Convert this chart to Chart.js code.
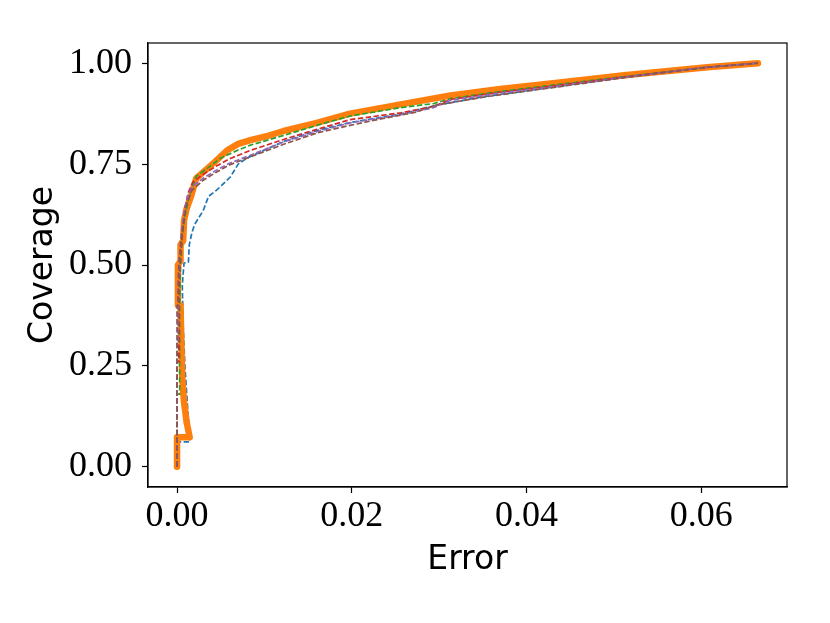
<!DOCTYPE html>
<html>
<head>
<meta charset="utf-8">
<script src="https://cdn.jsdelivr.net/npm/chart.js@4/dist/chart.umd.min.js"></script>
<style>
  html, body { margin: 0; padding: 0; background: #ffffff; }
  canvas { display: block; }
</style>
</head>
<body>
<canvas id="c" width="830" height="623"></canvas>
<script>
// ---- data ----
const xTicks = [0.00, 0.02, 0.04, 0.06];
const yTicks = [0.00, 0.25, 0.50, 0.75, 1.00];

const blueX   = [0, 0, 0.0015, 0.0012, 0.0009, 0.0007, 0.0006, 0.0008, 0.0013, 0.0014, 0.0017, 0.0020, 0.0030, 0.0036, 0.0045, 0.0051, 0.0061, 0.0070, 0.0080, 0.0122, 0.0160, 0.0198, 0.0256, 0.0297, 0.0351, 0.0428, 0.0512, 0.0607, 0.0665];
const blueY   = [0, 0.062, 0.062, 0.15, 0.25, 0.35, 0.45, 0.505, 0.507, 0.55, 0.58, 0.60, 0.635, 0.67, 0.685, 0.697, 0.718, 0.75, 0.765, 0.806, 0.833, 0.853, 0.874, 0.896, 0.917, 0.940, 0.965, 0.990, 1.0];

const orangeX = [0, 0, 0.00145, 0.0011, 0.0008, 0.0006, 0.0005, 0.0004, 0.0001, 0.0001, 0.0004, 0.0004, 0.0007, 0.0008, 0.0011, 0.0016, 0.0022, 0.0030, 0.0043, 0.0058, 0.0070, 0.0085, 0.0104, 0.0122, 0.0160, 0.0198, 0.0256, 0.0313, 0.0370, 0.0428, 0.0512, 0.0607, 0.0665];
const orangeY = [0, 0.073, 0.073, 0.11, 0.16, 0.22, 0.30, 0.40, 0.40, 0.50, 0.51, 0.55, 0.56, 0.61, 0.64, 0.67, 0.715, 0.73, 0.755, 0.785, 0.80, 0.81, 0.82, 0.832, 0.852, 0.875, 0.898, 0.920, 0.936, 0.950, 0.970, 0.990, 1.0];

const greenX  = [0, 0, 0.0003, 0.0003, 0.0004, 0.0006, 0.0009, 0.0014, 0.0022, 0.0035, 0.0050, 0.0070, 0.0084, 0.0122, 0.0160, 0.0198, 0.0256, 0.0294, 0.0313, 0.0370, 0.0428, 0.0512, 0.0607, 0.0665];
const greenY  = [0, 0.18, 0.18, 0.40, 0.50, 0.57, 0.62, 0.67, 0.72, 0.74, 0.765, 0.785, 0.797, 0.821, 0.846, 0.869, 0.890, 0.900, 0.912, 0.930, 0.945, 0.967, 0.990, 1.0];

const redX    = [0, 0, 0.0002, 0.0002, 0.0004, 0.0006, 0.0009, 0.0013, 0.0018, 0.0030, 0.0045, 0.0060, 0.0084, 0.0122, 0.0160, 0.0198, 0.0256, 0.0294, 0.0313, 0.0370, 0.0428, 0.0512, 0.0607, 0.0665];
const redY    = [0, 0.26, 0.26, 0.45, 0.52, 0.58, 0.64, 0.68, 0.705, 0.725, 0.745, 0.763, 0.784, 0.811, 0.836, 0.860, 0.877, 0.893, 0.910, 0.928, 0.943, 0.966, 0.990, 1.0];

const purpleX = [0, 0, 0.0001, 0.0001, 0.0003, 0.0005, 0.0008, 0.0012, 0.0018, 0.0030, 0.0045, 0.0060, 0.0084, 0.0122, 0.0160, 0.0198, 0.0256, 0.0294, 0.0313, 0.0370, 0.0428, 0.0512, 0.0607, 0.0665];
const purpleY = [0, 0.31, 0.31, 0.45, 0.52, 0.58, 0.63, 0.67, 0.695, 0.715, 0.735, 0.752, 0.772, 0.805, 0.830, 0.852, 0.872, 0.890, 0.908, 0.926, 0.941, 0.965, 0.990, 1.0];

const brownX  = [0, 0, 0.0001, 0.0002, 0.0004, 0.0007, 0.0011, 0.0017, 0.0030, 0.0045, 0.0060, 0.0084, 0.0122, 0.0160, 0.0198, 0.0236, 0.0274, 0.0297, 0.0351, 0.0428, 0.0512, 0.0607, 0.0665];
const brownY  = [0, 0.40, 0.40, 0.50, 0.55, 0.60, 0.65, 0.685, 0.710, 0.730, 0.748, 0.768, 0.799, 0.827, 0.846, 0.863, 0.879, 0.896, 0.916, 0.939, 0.964, 0.990, 1.0];

const xLabel = 'Error';
const yLabel = 'Coverage';

// ---- build ----
function pts(xs, ys) { return xs.map((x, i) => ({ x: x, y: ys[i] })); }

const dashed = [5.5, 2.4];
function dashedSet(label, xs, ys, color, order) {
  return {
    label: label, data: pts(xs, ys), borderColor: color, backgroundColor: color,
    borderWidth: 1.7, borderDash: dashed, pointRadius: 0, tension: 0, order: order,
    borderCapStyle: 'butt', borderJoinStyle: 'round', fill: false
  };
}

const datasets = [
  dashedSet('C0', blueX, blueY, '#1f77b4', 5),
  {
    label: 'C1', data: pts(orangeX, orangeY), borderColor: '#ff7f0e', backgroundColor: '#ff7f0e',
    borderWidth: 6.5, pointRadius: 0, tension: 0, order: 4,
    borderCapStyle: 'round', borderJoinStyle: 'round', fill: false
  },
  dashedSet('C2', greenX, greenY, '#2ca02c', 3),
  dashedSet('C3', redX, redY, '#d62728', 2),
  dashedSet('C4', purpleX, purpleY, '#9467bd', 1),
  dashedSet('C5', brownX, brownY, '#8c564b', 0)
];

const frame = {
  id: 'frame',
  afterDraw(chart) {
    const a = chart.chartArea, ctx = chart.ctx;
    ctx.save();
    ctx.strokeStyle = '#000';
    ctx.lineWidth = 1.2;
    ctx.strokeRect(a.left, a.top, a.right - a.left, a.bottom - a.top);
    ctx.restore();
  }
};

const tickFont = { family: '"Liberation Serif", "DejaVu Serif", serif', size: 36 };
const titleFont = { family: '"DejaVu Sans", sans-serif', size: 33 };

new Chart(document.getElementById('c'), {
  type: 'line',
  data: { datasets: datasets },
  plugins: [frame],
  options: {
    responsive: false,
    devicePixelRatio: 1,
    animation: false,
    layout: { padding: { left: 0, right: 43, top: 43, bottom: 0 } },
    plugins: { legend: { display: false }, tooltip: { enabled: false } },
    scales: {
      x: {
        type: 'linear', min: -0.003325, max: 0.069825,
        afterBuildTicks(s) { s.ticks = xTicks.map(v => ({ value: v })); },
        afterFit(s) { s.height = 136; },
        grid: { drawOnChartArea: false, drawTicks: true, tickLength: 6, color: '#000', tickWidth: 1.2 },
        border: { display: true, color: '#000', width: 1.2 },
        ticks: { color: '#000', font: tickFont, padding: 2, maxRotation: 0, autoSkip: false,
                 callback: v => Number(v).toFixed(2) },
        title: { display: true, text: xLabel, color: '#000', font: titleFont, padding: { top: 4, bottom: 43 } }
      },
      y: {
        type: 'linear', min: -0.05, max: 1.05,
        afterBuildTicks(s) { s.ticks = yTicks.map(v => ({ value: v })); },
        afterFit(s) { s.width = 148; },
        grid: { drawOnChartArea: false, drawTicks: true, tickLength: 6, color: '#000', tickWidth: 1.2 },
        border: { display: true, color: '#000', width: 1.2 },
        ticks: { color: '#000', font: tickFont, padding: 10, autoSkip: false,
                 callback: v => Number(v).toFixed(2) },
        title: { display: true, text: yLabel, color: '#000', font: titleFont, padding: { top: 24, bottom: 4 } }
      }
    }
  }
});
</script>
</body>
</html>
